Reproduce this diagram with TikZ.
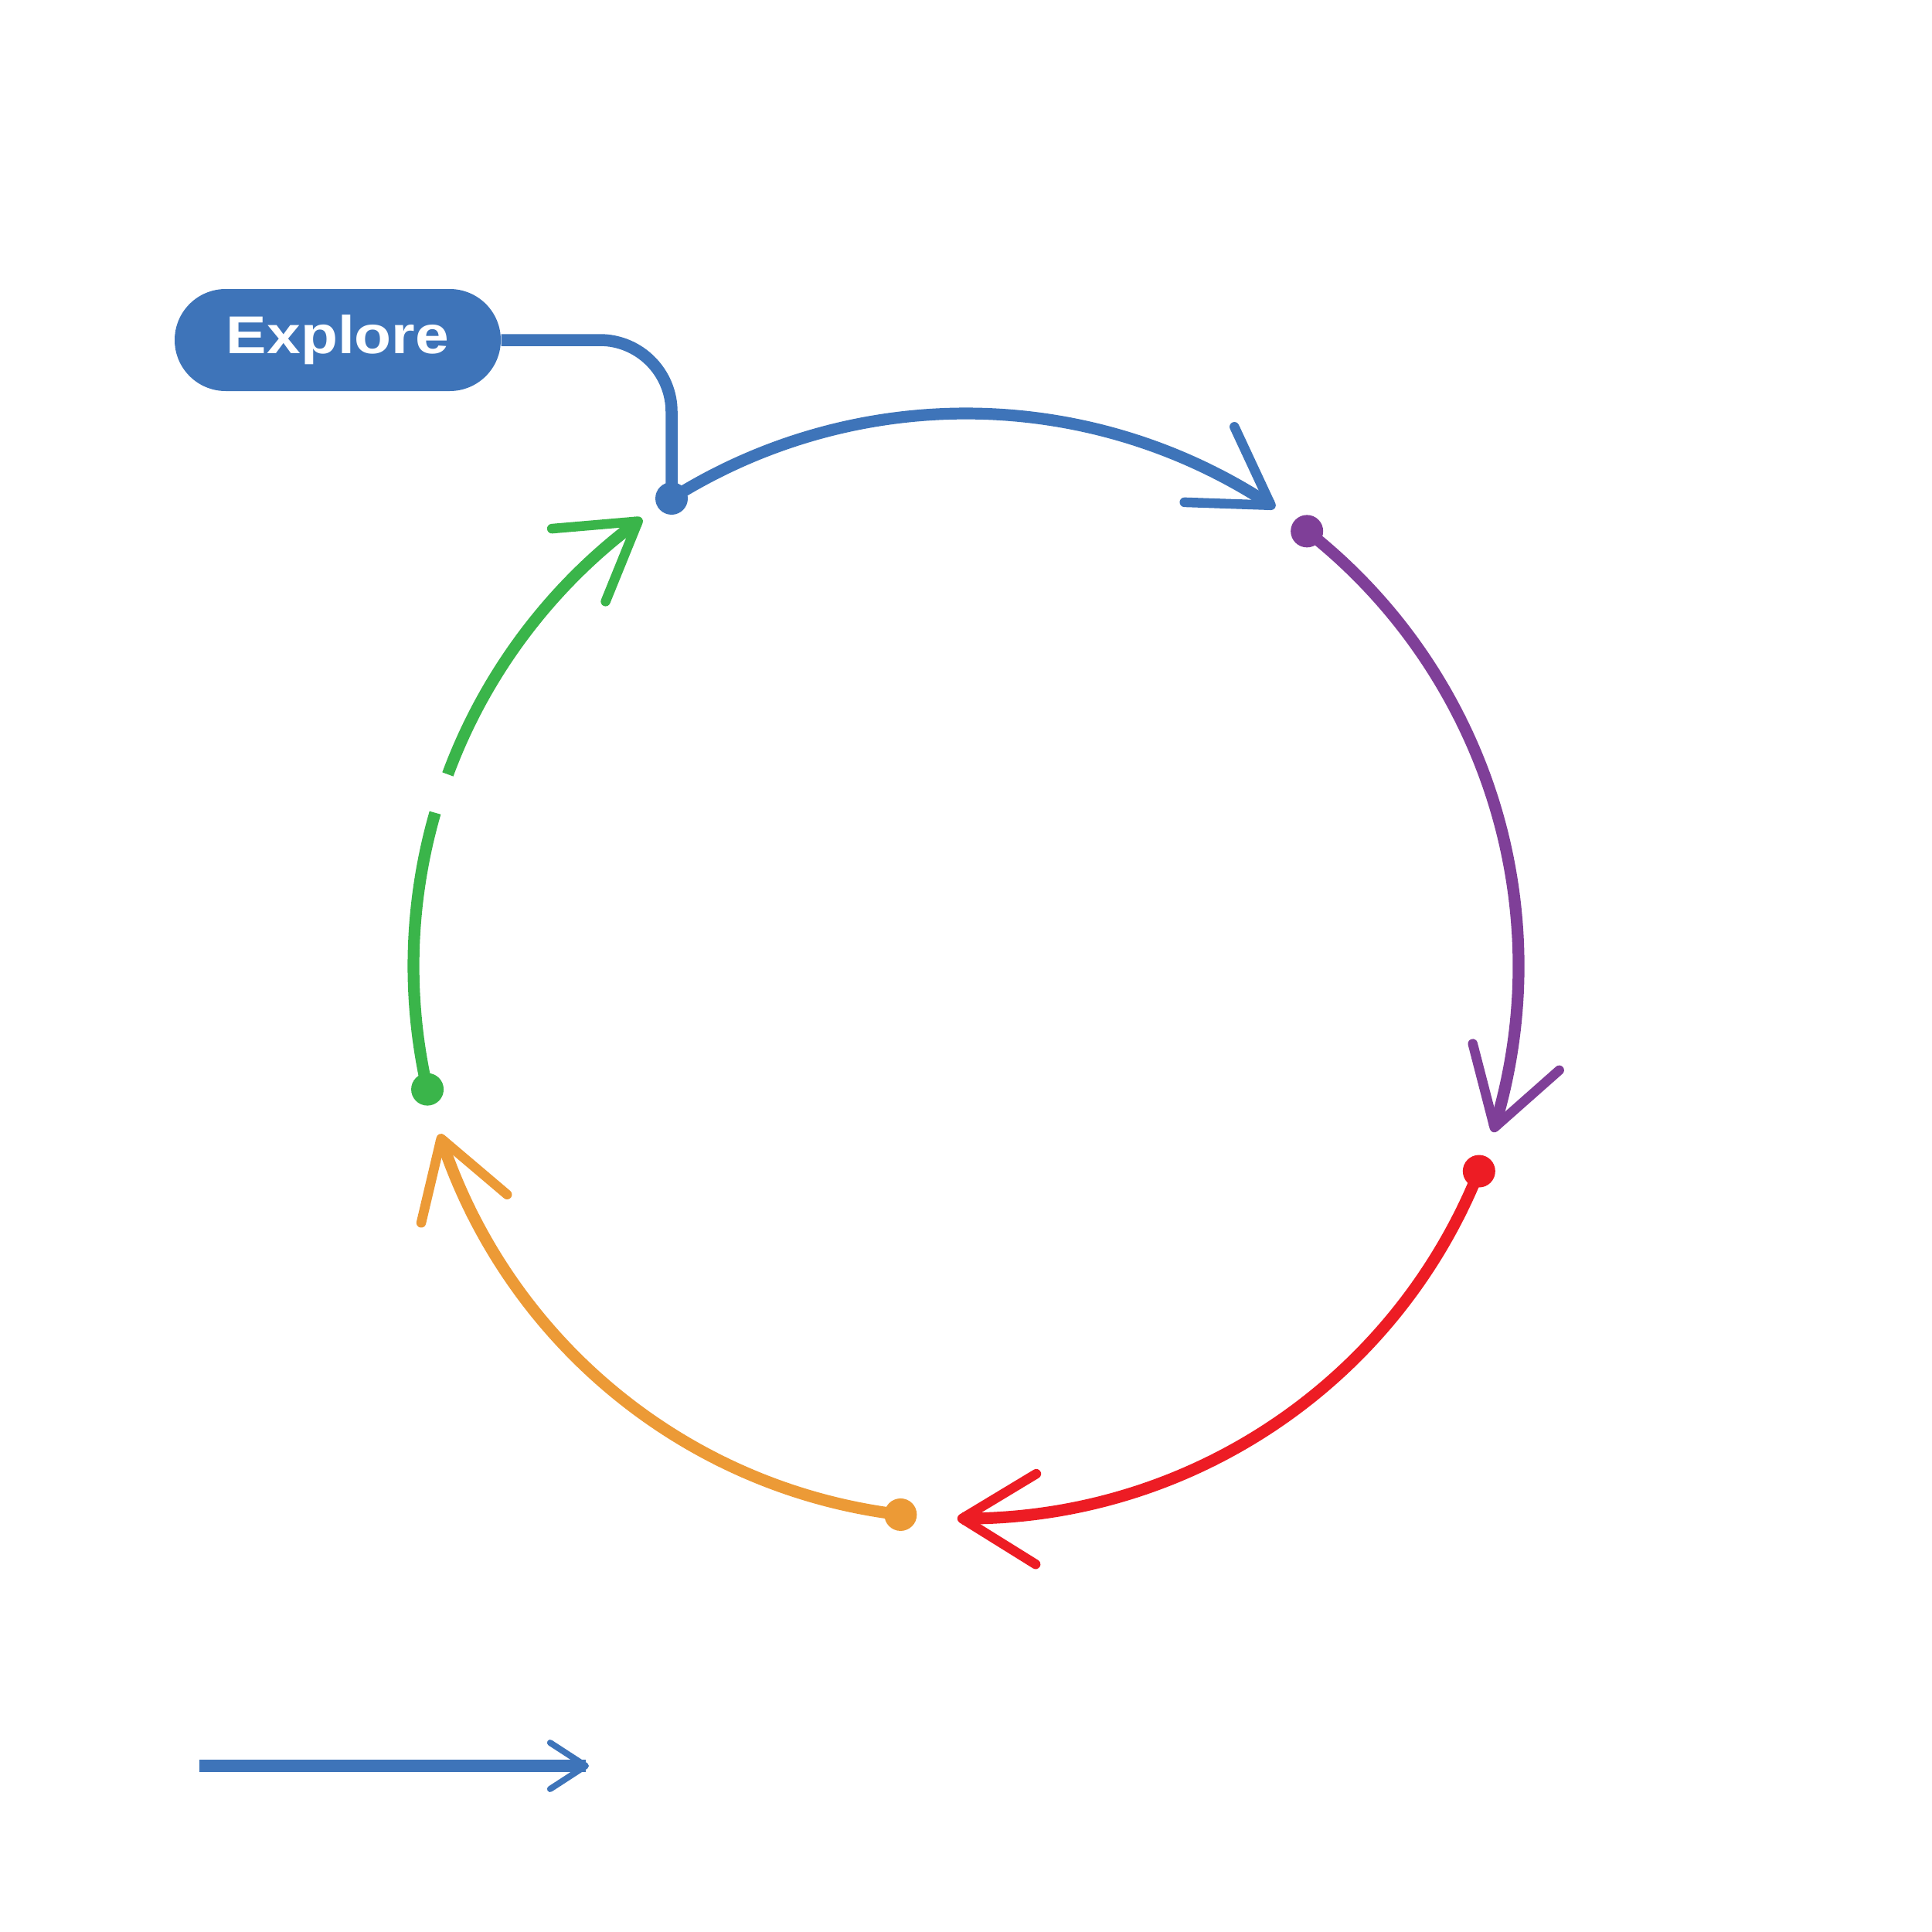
\documentclass[tikz,border=0pt]{standalone}
\usepackage{fontspec}
\newfontfamily\labelfont[FakeStretch=1.14]{Liberation Sans}
\usetikzlibrary{calc}
\definecolor{cblue}{RGB}{62,116,185}
\definecolor{cpurple}{RGB}{127,63,152}
\definecolor{cred}{RGB}{237,28,36}
\definecolor{corange}{RGB}{236,154,54}
\definecolor{cgreen}{RGB}{58,181,74}
\begin{document}
\begin{tikzpicture}[
  arcline/.style={line width=0.152cm, line cap=butt},
  armline/.style={line width=0.125cm, line cap=round, line join=round},
  dotfill/.style={radius=0.21},
  pill/.style={fill=cblue, rounded corners=0.66cm, minimum width=4.22cm, minimum height=1.32cm, inner sep=0pt, text=white, font=\labelfont\bfseries\fontsize{19.6}{23}\selectfont},
  link/.style={line width=0.155cm, rounded corners=0.93cm},
]
\useasboundingbox (0,0) rectangle (25,-25);
\fill[white] (0,0) rectangle (25,-25);
\def\R{7.15}
\coordinate (C) at (12.5,-12.5);
% dots
\coordinate (dB) at ($(C)+(122.2:\R)$);
\coordinate (dP) at ($(C)+(51.9:\R)$);
\coordinate (dR) at ($(C)+(-21.8:\R)$);
\coordinate (dO) at ($(C)+(-96.8:\R)$);
\coordinate (dG) at ($(C)+(192.9:\R)$);
% tips
\coordinate (tB) at ($(C)+(56.5:\R)$);
\coordinate (tP) at ($(C)+(-17.0:\R)$);
\coordinate (tR) at ($(C)+(-90.4:\R)$);
\coordinate (tO) at ($(C)+(198.2:\R)$);
\coordinate (tG) at ($(C)+(126.4:\R)$);
\coordinate (gG) at ($(C)+(159.7:\R)$);
% arcs
\draw[arcline, cblue] (dB) arc[start angle=122.2, end angle=56.5, radius=\R];
\draw[arcline, cpurple] (dP) arc[start angle=51.9, end angle=-17.0, radius=\R];
\draw[arcline, cred] (dR) arc[start angle=-21.8, end angle=-90.4, radius=\R];
\draw[arcline, corange] (dO) arc[start angle=-96.8, end angle=-161.8, radius=\R];
\draw[arcline, cgreen] (dG) arc[start angle=192.9, end angle=163.9, radius=\R];
\draw[arcline, cgreen] (gG) arc[start angle=159.7, end angle=126.4, radius=\R];
% arrow heads
\draw[armline, cblue] ($(tB)+(178:1.12)$) -- (tB) -- ($(tB)+(115:1.12)$);
\draw[armline, cpurple] ($(tP)+(104.5:1.12)$) -- (tP) -- ($(tP)+(41.5:1.12)$);
\draw[armline, cred] ($(tR)+(31.1:1.12)$) -- (tR) -- ($(tR)+(-31.9:1.12)$);
\draw[armline, corange] ($(tO)+(319.7:1.12)$) -- (tO) -- ($(tO)+(256.7:1.12)$);
\draw[armline, cgreen] ($(tG)+(247.9:1.12)$) -- (tG) -- ($(tG)+(184.9:1.12)$);
% label and link
\node[pill] (explore) at (4.37,-4.40) {\raisebox{-0.04cm}{Explore}};
\draw[link, cblue] (explore.east) -| (dB);
% dots on top
\fill[cblue] (dB) circle[dotfill];
\fill[cpurple] (dP) circle[dotfill];
\fill[cred] (dR) circle[dotfill];
\fill[corange] (dO) circle[dotfill];
\fill[cgreen] (dG) circle[dotfill];
% legend
\coordinate (lS) at (2.58,-22.85);
\coordinate (lE) at (7.58,-22.85);
\draw[line width=0.16cm, cblue] (lS) -- (lE);
\draw[line width=0.08cm, line cap=round, line join=round, cblue] ($(lE)+(147:0.55)$) -- (lE) -- ($(lE)+(213:0.55)$);
\end{tikzpicture}
\end{document}
